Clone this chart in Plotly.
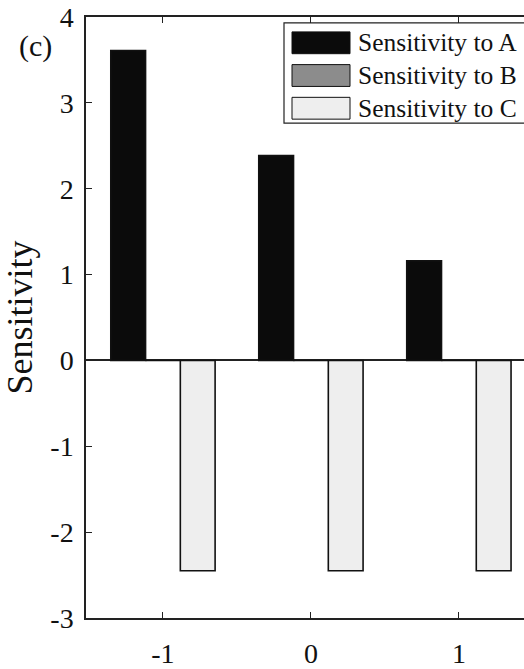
import plotly.graph_objects as go

x_vals = [-1, 0, 1]
sens_a = [3.61, 2.385, 1.16]
sens_b = [0.0, 0.0, 0.0]
sens_c = [-2.45, -2.45, -2.45]
series_names = ["Sensitivity to A", "Sensitivity to B", "Sensitivity to C"]
series_colors = ["#0b0b0b", "#8c8c8c", "#eeeeee"]
y_ticks = [-3, -2, -1, 0, 1, 2, 3, 4]
x_ticks = [-1, 0, 1]

FONT = "Liberation Serif"
W, H = 524, 669
ML, MR, MT, MB = 86, 0, 17, 46

fig = go.Figure()
for name, vals, col in zip(series_names, [sens_a, sens_b, sens_c], series_colors):
    fig.add_trace(go.Bar(
        x=x_vals, y=vals, name=name,
        marker=dict(color=col, line=dict(color="#111111", width=1.6)),
        showlegend=False,
    ))

fig.update_layout(
    width=W, height=H,
    margin=dict(l=ML, r=MR, t=MT, b=MB, pad=0),
    paper_bgcolor="white", plot_bgcolor="white",
    barmode="group", bargap=0.295, bargroupgap=0,
    font=dict(family=FONT, color="#111111", size=28),
    xaxis=dict(
        range=[-1.52, 1.44], tickvals=x_ticks, ticktext=[str(v) for v in x_ticks],
        ticks="inside", ticklen=6, tickwidth=1.2, tickcolor="#222",
        showline=True, linecolor="#222", linewidth=1.5, mirror="ticks",
        showgrid=False, zeroline=False, ticklabelstandoff=10,
        tickfont=dict(family=FONT, size=28, color="#111"),
    ),
    yaxis=dict(
        range=[-3, 4], tickvals=y_ticks, ticktext=[str(v) for v in y_ticks],
        ticks="inside", ticklen=6, tickwidth=1.2, tickcolor="#222",
        showline=True, linecolor="#222", linewidth=1.5, mirror=False,
        showgrid=False, zeroline=True, zerolinecolor="#222", zerolinewidth=1.5,
        ticklabelstandoff=5,
        tickfont=dict(family=FONT, size=28, color="#111"),
        title=dict(text="Sensitivity", font=dict(family=FONT, size=36, color="#111"), standoff=14),
    ),
)

# manual legend (large swatches like the original)
pw = W - ML - MR
ph = H - MT - MB
def px(xp):
    return (xp - ML) / pw
def py(yp):
    return (H - MB - yp) / ph

fig.add_shape(type="rect", xref="paper", yref="paper",
              x0=px(284), x1=px(530), y0=py(124), y1=py(23),
              line=dict(color="#222", width=1.2), fillcolor="white", layer="above")
rows = [43, 76, 109]
for name, col, ry in zip(series_names, series_colors, rows):
    fig.add_shape(type="rect", xref="paper", yref="paper",
                  x0=px(292), x1=px(350), y0=py(ry + 11), y1=py(ry - 11),
                  line=dict(color="#111", width=1), fillcolor=col, layer="above")
    fig.add_annotation(xref="paper", yref="paper", x=px(356), y=py(ry),
                       text=name, showarrow=False, xanchor="left", yanchor="middle",
                       font=dict(family=FONT, size=25.5, color="#111"))

fig.add_annotation(xref="paper", yref="paper", x=px(35), y=py(46),
                   text="(c)", showarrow=False, xanchor="center", yanchor="middle",
                   font=dict(family=FONT, size=30, color="#111"))

fig.write_html("out.html")
